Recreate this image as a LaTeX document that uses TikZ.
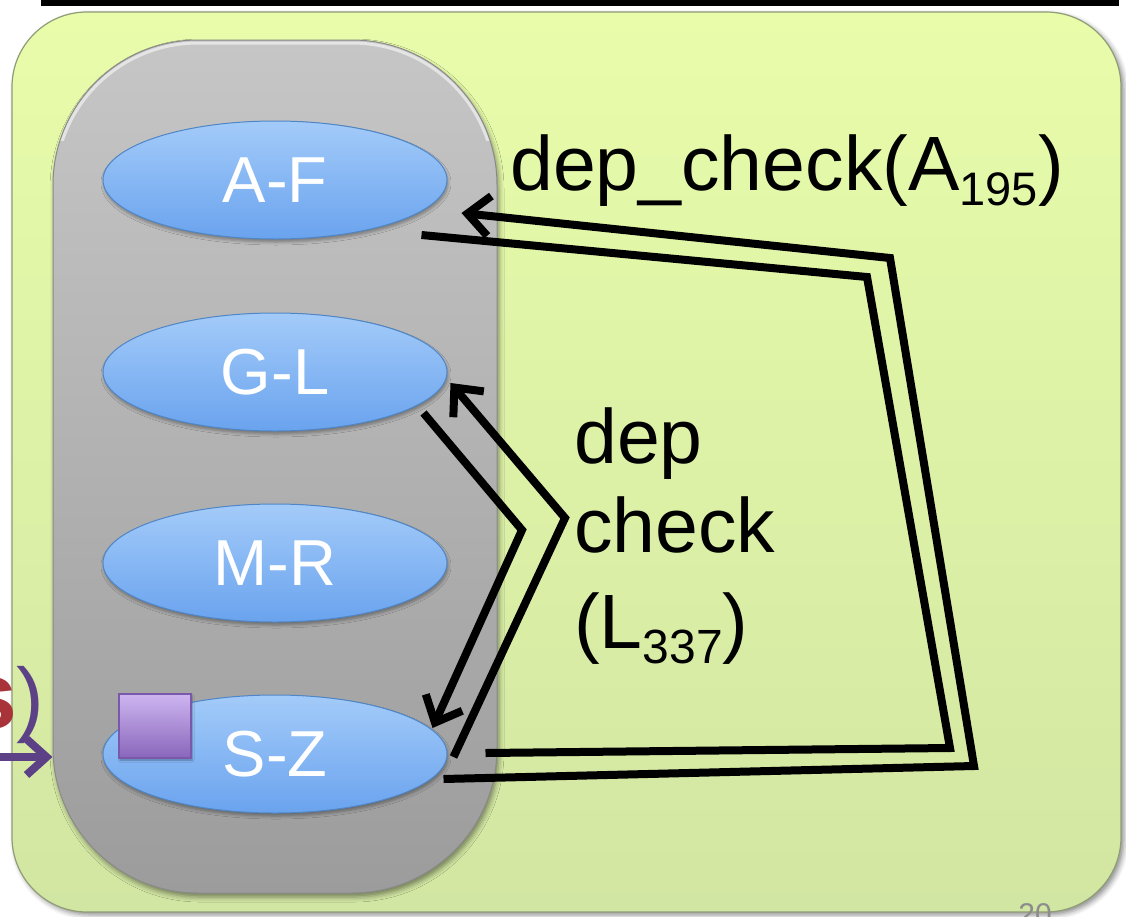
\documentclass[tikz,border=0pt]{standalone}
\usepackage{fontspec}
\setmainfont{Liberation Sans}
\usetikzlibrary{arrows.meta,calc,shadows.blur,shapes.geometric}

\definecolor{paneltop}{HTML}{E8FCAA}
\definecolor{panelbot}{HTML}{D2E6A3}
\definecolor{paneledge}{HTML}{8F9C76}
\definecolor{coltop}{HTML}{C6C6C6}
\definecolor{colbot}{HTML}{9C9C9C}
\definecolor{coledge}{HTML}{8A8A8A}
\definecolor{bluetop}{HTML}{A3CBF9}
\definecolor{bluebot}{HTML}{6AA3EE}
\definecolor{blueedge}{HTML}{4F86C6}
\definecolor{lilactop}{HTML}{CDB5F0}
\definecolor{lilacbot}{HTML}{8966BB}
\definecolor{lilacedge}{HTML}{7A58AA}
\definecolor{inkpurple}{HTML}{5C4187}
\definecolor{inkred}{HTML}{A8343A}
\definecolor{pagenum}{HTML}{8C8C8C}

\begin{document}
\begin{tikzpicture}[x=1pt,y=-1pt,
  panel/.style={rounded corners=75pt, draw=paneledge, line width=1.2pt,
    top color=paneltop, bottom color=panelbot,
    blur shadow={shadow xshift=3pt, shadow yshift=-3pt, shadow blur radius=5pt, shadow opacity=45}},
  column/.style={rectangle, rounded corners=145pt, draw=coledge, line width=1pt,
    top color=coltop, bottom color=colbot, inner sep=0pt,
    minimum width=444pt, minimum height=853pt,
    blur shadow={shadow xshift=2pt, shadow yshift=-4pt, shadow blur radius=5pt, shadow opacity=45}},
  part/.style={ellipse, minimum width=344pt, minimum height=118pt, inner sep=0pt,
    draw=blueedge, line width=1pt, top color=bluetop, bottom color=bluebot,
    text=white, font=\fontsize{65}{65}\selectfont,
    blur shadow={shadow xshift=1pt, shadow yshift=-3pt, shadow blur radius=3pt, shadow opacity=35}},
  flag/.style={rectangle, minimum width=72pt, minimum height=64pt, inner sep=0pt,
    draw=lilacedge, line width=1.5pt, top color=lilactop, bottom color=lilacbot,
    blur shadow={shadow xshift=1pt, shadow yshift=-2pt, shadow blur radius=2pt, shadow opacity=35}},
  wire/.style={line width=8pt, black},
  barb/.style={-{Straight Barb[length=22pt,width=40pt]}},
  label/.style={inner sep=0pt, anchor=base west, font=\fontsize{77}{92}\selectfont, text=black},
]
\useasboundingbox (0,0) rectangle (1126,916);

% frame above the panel
\draw[line width=6pt] (44,-40) rectangle (1116,3);

% green panel
\path[panel] (12,12) rectangle (1121,912);

% gray index column
\node[column] (col) at (275,466.5) {};
\begin{scope}
  \clip (0,30) rectangle (1126,140);
  \draw[white, opacity=0.55, line width=3pt, rounded corners=143pt] (55,43) rectangle (495,891);
\end{scope}

% key ranges
\node[part] (af) at (275,180) {A-F};
\node[part] (gl) at (275,372) {G-L};
\node[part] (mr) at (275,563) {M-R};
\node[part] (sz) at (275,754) {S-Z};

% marker on S-Z
\node[flag] (mark) at (155,726) {};

% incoming arrow from the left
\node[anchor=base east, inner sep=0pt, text=inkred, font=\fontsize{95}{95}\selectfont\bfseries] (tail) at (18,728) {s};
\node[anchor=base west, inner sep=0pt, text=inkpurple, font=\fontsize{83}{83}\selectfont] (paren) at (16,726) {)};
\coordinate (src) at (0,757);
\draw[line width=8pt, inkpurple, -{Straight Barb[length=20pt,width=36pt]}] (src) -- (col.west |- src);

% bend points of the connectors
\coordinate (o1) at (974,766);
\coordinate (o2) at (890,258);
\coordinate (i1) at (867,277);
\coordinate (i2) at (950,748);
\coordinate (z1) at (565,518);
\coordinate (z2) at (522,530);

% dep_check(A195): S-Z asks A-F, and the reply
\draw[wire, barb] ($(sz.east)+(-4,25)$) -- (o1) -- (o2) -- ($(af.east)+(14,33)$);
\draw[wire] ($(af.east)+(-26,55)$) -- (i1) -- (i2) -- ($(sz.east)+(38,-1)$);

% dep check(L337): S-Z asks G-L, and the reply
\draw[wire, barb] ($(sz.east)+(6,3)$) -- (z1) -- ($(gl.east)+(3,11)$);
\draw[wire, barb] ($(gl.east)+(-24,41)$) -- (z2) -- ($(sz.east)+(-15,-26)$);

% labels
\node[label] (lblA) at (510,190)
  {dep\_check(A\raisebox{-15pt}{\fontsize{47}{47}\selectfont 195})};
\node[label] (lblL1) at (574,463) {dep};
\node[label] (lblL2) at (574,552) {check};
\node[label] (lblL3) at (574,648) {(L\raisebox{-15pt}{\fontsize{48}{48}\selectfont 337})};

% slide number
\node[anchor=north, inner sep=0pt, text=pagenum, font=\fontsize{30}{30}\selectfont] (pg) at (1035,903) {20};
\end{tikzpicture}
\end{document}
